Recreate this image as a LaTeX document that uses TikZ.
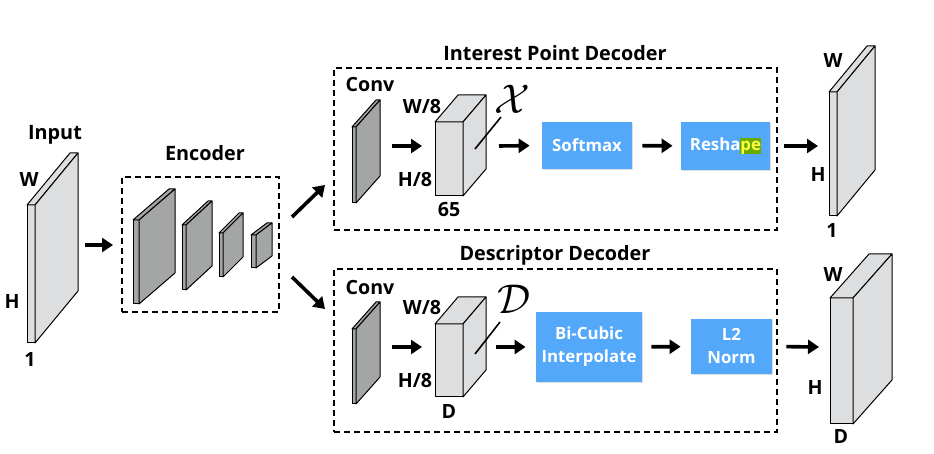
\documentclass[tikz,border=0pt]{standalone}
\usepackage{fontspec}
\setsansfont{Open Sans}
\usepackage{xcolor}
\usepackage{tikz}
\usetikzlibrary{arrows.meta,shadows}

\definecolor{sheet}{RGB}{221,222,224}
\definecolor{kernel}{RGB}{164,166,166}
\definecolor{opblue}{RGB}{84,168,250}
\definecolor{hlgreen}{RGB}{104,170,0}
\definecolor{hlyellow}{RGB}{255,255,60}

% prism: name, x, y, front width, height, depth dx, depth dy, fill
\newcommand{\prism}[8]{%
  \draw[slab, fill=#8] (#2,#3) rectangle ++(#4,#5);
  \draw[slab, fill=#8] (#2,#3) -- ++(#6,#7) -- ++(#4,0) -- ({#2+#4},#3) -- cycle;
  \draw[slab, fill=#8] ({#2+#4},{#3+#5}) -- ({#2+#4},#3) -- ++(#6,#7) -- ++(0,#5) -- cycle;
  \coordinate (#1) at ({#2+#4},{#3+#5/2});
}

\tikzset{
  slab/.style={draw=black, line width=0.5pt, line join=round},
  lbl/.style={font=\sffamily\bfseries\fontsize{9.8}{11}\selectfont, inner sep=0pt},
  title/.style={font=\sffamily\bfseries\fontsize{9.9}{11}\selectfont, inner sep=0pt},
  opbox/.style={fill=opblue, text=white, align=center, inner sep=0pt,
    font=\sffamily\bfseries\fontsize{8.4}{11.5}\selectfont,
    drop shadow={shadow xshift=0.6pt, shadow yshift=-0.6pt, opacity=0.25}},
  dashbox/.style={draw, line width=1.4pt, dash pattern=on 3pt off 2pt, inner sep=0pt},
  arr/.style={line width=1.8pt, -{Triangle[length=5.5pt,width=7pt]}},
  pointer/.style={line width=0.8pt},
}

\begin{document}
\begin{tikzpicture}[x=0.5pt, y=-0.5pt]
  \useasboundingbox (0,0) rectangle (934,454);

  % input image
  \prism{input}{27}{205}{8}{138}{43}{-52}{sheet}
  \node[title] (inputtitle) at (55,135) {Input};
  \node[lbl] (inw) at (29,180) {W};
  \node[lbl] (inh) at (12,302) {H};
  \node[lbl] (inc) at (30,360) {1};

  % encoder
  \node[dashbox, minimum width=78.5pt, minimum height=67.5pt] (enc) at (200.5,244.5) {};
  \node[title] (enctitle) at (205,153) {Encoder};
  \prism{enca}{133}{220}{6}{84}{36}{-31}{kernel}
  \prism{encb}{182}{225}{4}{65}{26}{-24}{kernel}
  \prism{encc}{219}{233}{4}{44}{20}{-20}{kernel}
  \prism{encd}{251}{235}{5}{33}{16}{-12}{kernel}

  % interest point decoder
  \node[dashbox, minimum width=221.5pt, minimum height=81pt] (ipd) at (555.5,149) {};
  \node[title] (ipdtitle) at (555,53) {Interest Point Decoder};
  \node[lbl] (convalbl) at (370,85) {Conv};
  \prism{conva}{352}{127}{4}{76}{24}{-27}{kernel}
  \prism{feata}{435}{122}{28}{74}{23}{-27}{sheet}
  \node[lbl] (feataw) at (422,107) {W/8};
  \node[lbl] (featah) at (415,180) {H/8};
  \node[lbl] (featac) at (449,210) {65};
  \node[inner sep=0pt, font=\fontsize{20}{24}\selectfont] (xlbl) at (512,99) {$\mathcal{X}$};
  \node[opbox, minimum width=45pt, minimum height=23.5pt] (softmax) at (587,145.5) {Softmax};
  \node[opbox, minimum width=44.5pt, minimum height=24pt] (reshape) at (725.5,146)
    {Resha{\setlength{\fboxsep}{0pt}\colorbox{hlgreen}{\textcolor{hlyellow}{\vphantom{Rh}pe}}}};

  % descriptor decoder
  \node[dashbox, minimum width=221.5pt, minimum height=81.5pt] (dd) at (555.5,350.5) {};
  \node[title] (ddtitle) at (555,255) {Descriptor Decoder};
  \node[lbl] (convblbl) at (370,288) {Conv};
  \prism{convb}{352}{329}{4}{75}{24}{-27}{kernel}
  \prism{featb}{435}{324}{28}{73}{23}{-27}{sheet}
  \node[lbl] (featbw) at (422,308) {W/8};
  \node[lbl] (featbh) at (415,381) {H/8};
  \node[lbl] (featbc) at (449,412) {D};
  \node[inner sep=0pt, font=\fontsize{20}{24}\selectfont] (dlbl) at (514,299) {$\mathcal{D}$};
  \node[opbox, minimum width=53pt, minimum height=35pt] (bicubic) at (589,347) {Bi-Cubic\\Interpolate};
  \node[opbox, minimum width=40.5pt, minimum height=27.5pt] (lnorm) at (731.5,346.5) {L2\\Norm};

  % outputs
  \prism{outa}{829}{92}{8}{124}{38}{-46}{sheet}
  \node[lbl] (outaw) at (833,61) {W};
  \node[lbl] (outah) at (818,175) {H};
  \node[lbl] (outac) at (832,231) {1};
  \prism{outb}{830}{298}{23}{126}{39}{-44}{sheet}
  \node[lbl] (outbw) at (833,275) {W};
  \node[lbl] (outbh) at (815,388) {H};
  \node[lbl] (outbc) at (841,437) {D};

  % arrow ends
  \coordinate (in-out) at (85,245);
  \coordinate (enc-in) at (113,245);
  \coordinate (enc-outa) at (292,217);
  \coordinate (ipd-in) at (325,185);
  \coordinate (enc-outb) at (292,277);
  \coordinate (dd-in) at (325,309);
  \coordinate (conva-out) at (392,146);
  \coordinate (feata-in) at (422,146);
  \coordinate (feata-out) at (499,146);
  \coordinate (outa-in) at (818,146);
  \coordinate (convb-out) at (392,347);
  \coordinate (featb-in) at (422,347);
  \coordinate (featb-out) at (496,347);
  \coordinate (outb-in) at (819,347);
  \coordinate (feata-face) at (475,149);
  \coordinate (xlbl-tail) at (501,117);
  \coordinate (featb-face) at (475,354);
  \coordinate (dlbl-tail) at (500,322);

  % connectors
  \draw[arr] (in-out) -- (enc-in);
  \draw[arr] (enc-outa) -- (ipd-in);
  \draw[arr] (enc-outb) -- (dd-in);
  \draw[arr] (conva-out) -- (feata-in);
  \draw[arr, shorten >=6pt] (feata-out) -- (softmax.west);
  \draw[arr, shorten <=5pt, shorten >=4pt] (softmax) -- (reshape);
  \draw[arr, shorten <=7pt] (reshape.east) -- (outa-in);
  \draw[arr] (convb-out) -- (featb-in);
  \draw[arr, shorten >=5pt] (featb-out) -- (bicubic.west);
  \draw[arr, shorten <=4.5pt, shorten >=5pt] (bicubic) -- (lnorm);
  \draw[arr, shorten <=7pt] (lnorm.east) -- (outb-in);
  \draw[pointer] (feata-face) -- (xlbl-tail);
  \draw[pointer] (featb-face) -- (dlbl-tail);
\end{tikzpicture}
\end{document}
